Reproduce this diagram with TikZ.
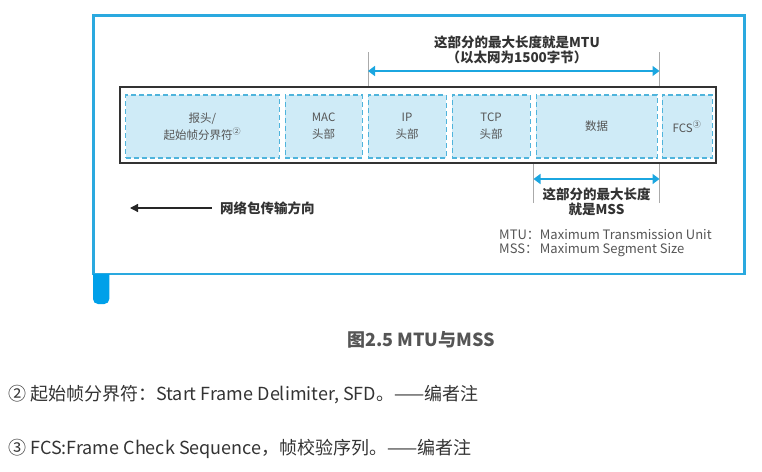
\documentclass[tikz,border=0pt]{standalone}
\usepackage{fontspec}
\setmainfont{Noto Sans CJK SC}
\usetikzlibrary{positioning, arrows.meta}

\definecolor{frameblue}{HTML}{2AA9DF}
\definecolor{tabblue}{HTML}{00A0E9}
\definecolor{fieldfill}{HTML}{CFEBF7}
\definecolor{fielddash}{HTML}{4FB4DC}
\definecolor{arrowblue}{HTML}{1BA6E0}
\definecolor{textgrey}{HTML}{555555}
\definecolor{guidegrey}{HTML}{AAAAAA}
\definecolor{notegrey}{HTML}{333333}

\begin{document}
\begin{tikzpicture}[
    x=1pt, y=-1pt,
    field/.style={rectangle, draw=fielddash, fill=fieldfill, dash pattern=on 5pt off 3pt, line width=1.1pt, minimum height=63pt, inner sep=0pt, outer sep=0pt, align=center, text=textgrey, font=\fontsize{11.5}{17}\selectfont},
    pktframe/.style={rectangle, draw=black!80, line width=1.3pt, minimum width=596pt, minimum height=76pt},
    guide/.style={draw=guidegrey, line width=0.8pt},
    dimarrow/.style={{Triangle[width=10pt,length=7pt]}-{Triangle[width=10pt,length=7pt]}, draw=arrowblue, line width=2.4pt},
    dirarrow/.style={-{Triangle[width=8pt,length=8pt]}, draw=black!85, line width=1.3pt},
    dimlabel/.style={font=\bfseries\fontsize{13.5}{15}\selectfont, text=black!80, align=center},
    note/.style={anchor=west, text=notegrey, font=\fontsize{18}{21}\selectfont}
]
\useasboundingbox (0,0) rectangle (762,471);

% 外框
\draw[frameblue, line width=2.7pt] (93.7,15.3) rectangle (744.3,274);
\fill[tabblue] (93,274) [rounded corners=5pt] -- (93,304) -- (109.3,304) [sharp corners] -- (109.3,274) -- cycle;

% 数据包
\node[pktframe] (pkt) at (418,125) {};
\node[field, minimum width=153.5pt] (hdr) at (202.3,126.5) {报头/\\起始帧分界符\textsuperscript{②}};
\node[field, minimum width=77pt, right=6pt of hdr] (mac) {MAC\\头部};
\node[field, minimum width=78pt, right=6pt of mac] (ip) {IP\\头部};
\node[field, minimum width=78pt, right=6pt of ip] (tcp) {TCP\\头部};
\node[field, minimum width=121pt, right=6pt of tcp] (data) {数据};
\node[field, minimum width=50pt, right=5pt of data] (fcs) {FCS\textsuperscript{③}};

% MTU
\coordinate (mtuL) at (368,52);
\coordinate (mtuR) at (659.5,52);
\draw[guide] (mtuL) -- (mtuL |- pkt.north);
\draw[guide] (mtuR) -- (mtuR |- pkt.north);
\draw[dimarrow] ([yshift=-19pt]mtuL) -- ([yshift=-19pt]mtuR);
\node[dimlabel] (mtu) at (517,50) {这部分的最大长度就是MTU\\（以太网为1500字节）};

% MSS
\coordinate (mssL) at (533.5,203);
\coordinate (mssR) at (659.5,203);
\draw[guide] (mssL) -- (mssL |- pkt.south);
\draw[guide] (mssR) -- (mssR |- pkt.south);
\draw[dimarrow] ([yshift=24pt]mssL) -- ([yshift=24pt]mssR);
\node[dimlabel] (mss) at (596.5,202) {这部分的最大长度\\就是MSS};

% 传输方向
\node[anchor=west, text=black!80, font=\bfseries\fontsize{13.5}{15}\selectfont] (dir) at (216.5,208) {网络包传输方向};
\coordinate (dirEnd) at (130,208);
\draw[dirarrow] ([xshift=-5pt]dir.west) -- (dirEnd);

% 说明
\node[anchor=west, text=textgrey, font=\fontsize{13}{13.5}\selectfont, inner sep=0pt] (legend) at (499,243.4) {%
  \begin{tabular}{@{}l@{}l@{}}
  MTU： & Maximum Transmission Unit\\
  MSS： & Maximum Segment Size
  \end{tabular}};

% 图题与注
\node[text=textgrey, font=\bfseries\fontsize{18}{21}\selectfont] (cap) at (421,340) {图2.5 MTU与MSS};
\node[note] (note1) at (4.7,395) {② 起始帧分界符：Start Frame Delimiter, SFD。——编者注};
\node[note] (note2) at (4.7,449) {③ FCS:Frame Check Sequence，帧校验序列。——编者注};

\end{tikzpicture}
\end{document}
